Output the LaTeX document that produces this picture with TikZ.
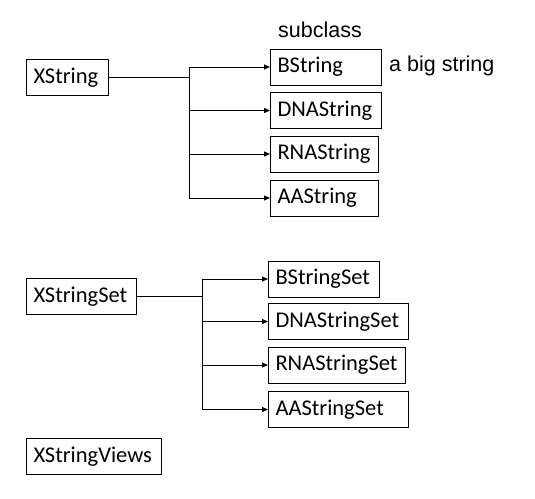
\documentclass[tikz,border=0pt]{standalone}
\usepackage{fontspec}
\setmainfont{Carlito}
\newfontfamily\arialfont{Liberation Sans}
\usepackage{tikz}
\usetikzlibrary{positioning, arrows.meta}
\tikzset{
  class box/.style={
    draw=black,
    line width=1pt,
    anchor=west,
    minimum height=36pt,
    inner xsep=7pt,
    inner ysep=0pt,
    align=left,
    font=\fontsize{22.5}{26}\selectfont
  },
  sub arrow/.style={
    -{Triangle[length=6pt,width=5pt]},
    line width=1pt
  },
  trunk/.style={line width=1pt},
  note/.style={font=\arialfont\fontsize{21.5}{24}\selectfont, inner sep=0pt}
}
\begin{document}
\begin{tikzpicture}[x=1pt,y=-1pt]
  \useasboundingbox (0,0) rectangle (535,498);

  % Strings
  \node[class box, text width=68pt] (xstr) at (26,77.5) {XString};
  \node[class box, text width=97pt] (bstr) at (270,67) {BString};
  \node[class box, text width=97pt] (dnastr) at (270,110.5) {DNAString};
  \node[class box, text width=94pt] (rnastr) at (270,154) {RNAString};
  \node[class box, text width=94pt] (aastr) at (270,198) {AAString};
  \node[note] (subcls) at (320,30) {subclass};
  \node[note, anchor=west] (bignote) at (389,66) {a big string};

  \coordinate (xstrj) at (189,77.5);
  \draw[trunk] (xstr.east) -- (xstrj);
  \draw[trunk] (xstrj |- bstr.west) -- (xstrj |- aastr.west);
  \foreach \b in {bstr, dnastr, rnastr, aastr}
    \draw[sub arrow] (xstrj |- \b.west) -- (\b.west);

  % String sets
  \node[class box, text width=96pt] (xset) at (26,296.5) {XStringSet};
  \node[class box, text width=97pt] (bset) at (268,279) {BStringSet};
  \node[class box, text width=126pt] (dnaset) at (268,321.5) {DNAStringSet};
  \node[class box, text width=123pt] (rnaset) at (268,365) {RNAStringSet};
  \node[class box, text width=126pt] (aaset) at (268,409.5) {AAStringSet};

  \coordinate (xsetj) at (202,296.5);
  \draw[trunk] (xset.east) -- (xsetj);
  \draw[trunk] (xsetj |- bset.west) -- (xsetj |- aaset.west);
  \foreach \b in {bset, dnaset, rnaset, aaset}
    \draw[sub arrow] (xsetj |- \b.west) -- (\b.west);

  % Views
  \node[class box, text width=121pt] (xviews) at (26,456.5) {XStringViews};
\end{tikzpicture}
\end{document}
